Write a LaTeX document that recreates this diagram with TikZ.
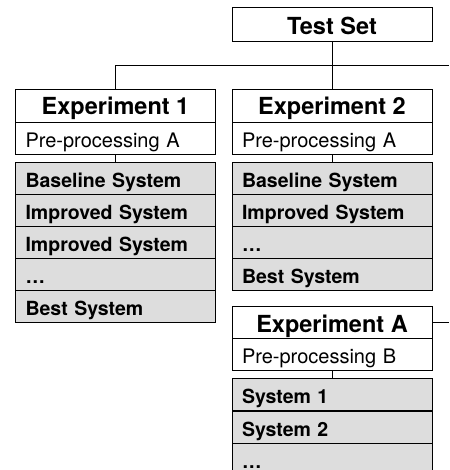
\documentclass[tikz,border=0pt]{standalone}
\usepackage{fontspec}
\setmainfont{TeX Gyre Heros}
\usepackage{tikz}
\usetikzlibrary{positioning}
\definecolor{rowgray}{HTML}{DDDDDD}

\begin{document}
\begin{tikzpicture}[x=1pt, y=-1pt, line width=0.8pt,
    head/.style={draw, fill=white, minimum width=200pt, minimum height=33pt, inner sep=0pt,
                 font=\fontsize{23.5}{25}\selectfont\bfseries, text height=19pt, text depth=0pt},
    pre/.style={draw, fill=white, text width=180pt, inner xsep=10pt, inner ysep=0pt,
                minimum height=32pt, align=left, font=\fontsize{20}{22}\selectfont,
                text height=19.8pt, text depth=0pt},
    sys/.style={pre, fill=rowgray, font=\fontsize{19.5}{22}\selectfont\bfseries, text height=18.2pt}]

    \useasboundingbox (0,0) rectangle (449,470);

    % ---- Test Set
    \node[head, minimum height=34pt, text height=21pt] (ts) at (332,24.3) {Test Set};
    \coordinate (off1) at (449,65);
    \coordinate (off2) at (449,322.5);

    % ---- Experiment 1
    \node[head] (e1t) at (115.5,105.5) {Experiment 1};
    \node[pre] (e1p) at (115.5,138) {Pre-processing A};
    \foreach \i/\y/\lab in {1/178/{Baseline System}, 2/210/{Improved System},
                            3/242/{Improved System}, 4/274/{\dots}, 5/306/{Best System}}
      \node[sys] (e1s\i) at (115.5,\y) {\lab};

    % ---- Experiment 2
    \node[head] (e2t) at (332,105.5) {Experiment 2};
    \node[pre] (e2p) at (332,138) {Pre-processing A};
    \foreach \i/\y/\lab in {1/178/{Baseline System}, 2/210/{Improved System},
                            3/242/{\dots}, 4/274/{Best System}}
      \node[sys] (e2s\i) at (332,\y) {\lab};

    % ---- Experiment A
    \node[head] (eat) at (332,322.5) {Experiment A};
    \node[pre] (eap) at (332,354) {Pre-processing B};
    \foreach \i/\y/\lab in {1/394.5/{System 1}, 2/427/{System 2}, 3/459.5/{\dots}}
      \node[sys] (eas\i) at (332,\y) {\lab};

    % ---- links
    \draw (ts.south) -- (e2t.north);
    \draw (e1t.north) |- (off1);
    \draw (e1p.south) -- (e1s1.north);
    \draw (e2p.south) -- (e2s1.north);
    \draw (eap.south) -- (eas1.north);
    \draw (eat.east) -- (off2);
  \end{tikzpicture}
\end{document}
